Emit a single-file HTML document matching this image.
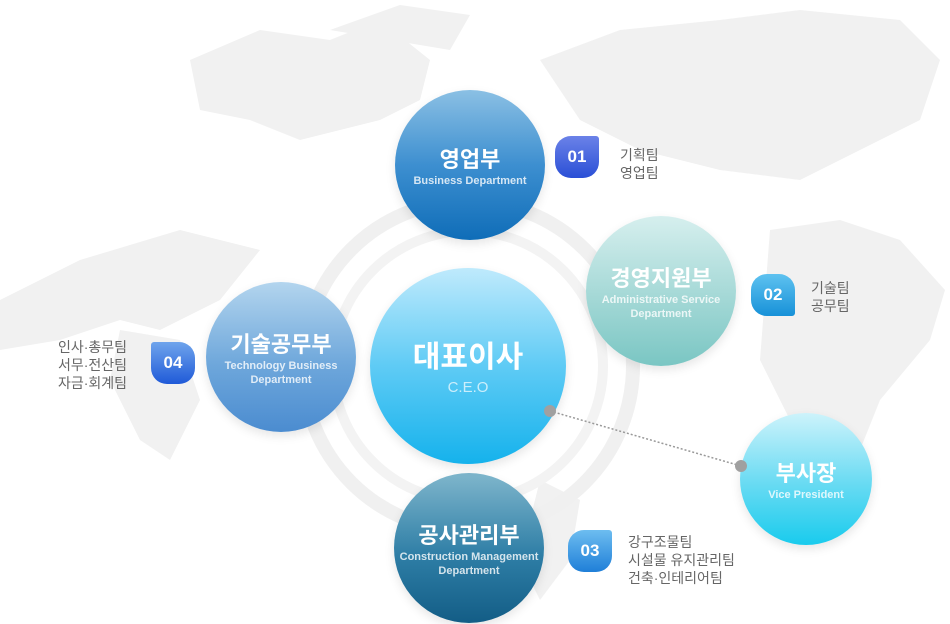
<!DOCTYPE html>
<html><head><meta charset="utf-8"><style>
body{margin:0;width:950px;height:624px;overflow:hidden;background:#fff;font-family:"Liberation Sans","Noto Sans CJK KR",sans-serif}
.c{position:absolute;border-radius:50%;color:#fff;text-align:center;display:flex;flex-direction:column;justify-content:center;align-items:center;box-shadow:0 4px 10px rgba(0,0,0,.10)}
.c b{font-size:22px;font-weight:bold;letter-spacing:0}
.c span{font-size:11px;line-height:14px;opacity:.8;font-weight:bold}
.bd{position:absolute;width:44px;height:42px;border-radius:16px;color:#fff;font-weight:bold;font-size:17px;display:flex;align-items:center;justify-content:center}
.t{position:absolute;color:#666;font-size:14px;line-height:18px}
</style></head><body>
<svg width="950" height="624" style="position:absolute;left:0;top:0">
<g fill="#f1f1f1">
<path d="M190 60 L260 30 L330 40 L380 20 L430 60 L420 100 L380 120 L300 140 L250 120 L200 110 Z"/>
<path d="M330 30 L400 5 L470 15 L450 50 Z"/>
<path d="M540 60 L620 30 L720 20 L800 10 L900 20 L940 60 L920 120 L860 150 L800 180 L720 170 L640 150 L580 120 Z"/>
<path d="M770 230 L840 220 L900 240 L945 290 L930 340 L880 400 L860 450 L830 470 L790 420 L760 360 Z"/>
<path d="M0 300 L80 260 L180 230 L260 250 L220 300 L160 330 L120 320 L60 340 L0 350 Z"/>
<path d="M120 330 L180 340 L200 400 L170 460 L140 440 L110 380 Z"/>
<path d="M540 480 L580 500 L570 560 L540 600 L520 560 Z"/>
</g>
<circle cx="468" cy="366" r="165" fill="none" stroke="#f0f0f0" stroke-width="14"/>
<circle cx="468" cy="366" r="135" fill="none" stroke="#f3f3f3" stroke-width="10"/>
<line x1="550" y1="411" x2="741" y2="466" stroke="#999" stroke-width="1.5" stroke-dasharray="2,2"/>
</svg>
<div class="c" style="left:395px;top:90px;width:150px;height:150px;background:linear-gradient(#8bc0e4,#3d8fd0 50%,#0f6db8)"><b>영업부</b><span>Business Department</span></div>
<div class="c" style="left:586px;top:216px;width:150px;height:150px;background:linear-gradient(#d6efee,#a8dad8 50%,#7ac6c3)"><b>경영지원부</b><span>Administrative Service<br>Department</span></div>
<div class="c" style="left:206px;top:282px;width:150px;height:150px;background:linear-gradient(#b3d5ee,#6ea7db 55%,#4b8cd0)"><b>기술공무부</b><span>Technology Business<br>Department</span></div>
<div class="c" style="left:394px;top:473px;width:150px;height:150px;background:linear-gradient(#7fb6cc,#2e7ea6 55%,#135d86)"><b>공사관리부</b><span>Construction Management<br>Department</span></div>
<div class="c" style="left:370px;top:268px;width:196px;height:196px;background:linear-gradient(#bfeafc,#5fcbf5 50%,#15b2ec)"><b style="font-size:30px">대표이사</b><span style="font-size:15px;line-height:24px;opacity:.7;font-weight:normal">C.E.O</span></div>
<div class="c" style="left:740px;top:413px;width:132px;height:132px;background:linear-gradient(#cdf3fb,#6fdcf3 50%,#19cbed)"><b>부사장</b><span>Vice President</span></div>
<svg width="950" height="624" style="position:absolute;left:0;top:0">
<circle cx="550" cy="411" r="6" fill="#a0a0a0"/><circle cx="741" cy="466" r="6" fill="#a0a0a0"/>
</svg>
<div class="bd" style="left:555px;top:136px;border-top-right-radius:3px;background:linear-gradient(#6b82e8,#2a4fd6)">01</div>
<div class="bd" style="left:751px;top:274px;border-bottom-right-radius:3px;background:linear-gradient(#5ec2f0,#1791d8)">02</div>
<div class="bd" style="left:568px;top:530px;border-top-right-radius:3px;background:linear-gradient(#6dbdf0,#1f7fd8)">03</div>
<div class="bd" style="left:151px;top:342px;border-top-left-radius:3px;background:linear-gradient(#6fa4ec,#1f5ad8)">04</div>
<div class="t" style="left:620px;top:146px">기획팀<br>영업팀</div>
<div class="t" style="left:811px;top:279px">기술팀<br>공무팀</div>
<div class="t" style="left:628px;top:533px">강구조물팀<br>시설물 유지관리팀<br>건축·인테리어팀</div>
<div class="t" style="left:58px;top:338px">인사·총무팀<br>서무·전산팀<br>자금·회계팀</div>
</body></html>
